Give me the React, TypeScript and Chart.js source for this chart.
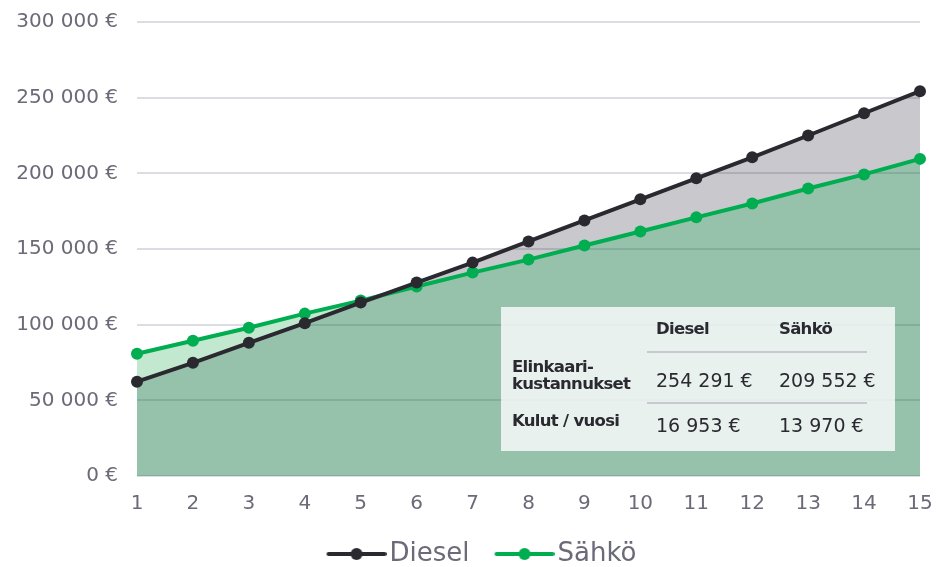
import React, { useEffect, useRef } from "react";
import { Chart, registerables } from "chart.js";

Chart.register(...registerables);

const years = ["1", "2", "3", "4", "5", "6", "7", "8", "9", "10", "11", "12", "13", "14", "15"];
const diesel = [62300, 74800, 88000, 101000, 114600, 127800, 141000, 155000, 168900, 182800, 196700, 210600, 225000, 239700, 254291];
const sahko = [80800, 89400, 98000, 107300, 115900, 125200, 134400, 143000, 152300, 161600, 170900, 180100, 190000, 199300, 209552];
const yTicks = [0, 50000, 100000, 150000, 200000, 250000, 300000];

const tableHeaders = ["Diesel", "Sähkö"];
const tableRowLabels = [["Elinkaari-", "kustannukset"], ["Kulut / vuosi"]];
const tableValues = [
  ["254 291 €", "209 552 €"],
  ["16 953 €", "13 970 €"],
];

const DIESEL_COLOR = "#2b2930";
const SAHKO_COLOR = "#00ad50";
const TEXT_COLOR = "#6b6a78";
const FONT = "'DejaVu Sans', Verdana, sans-serif";

function fmt(v: number) {
  const s = Math.round(v).toString().replace(/\B(?=(\d{3})+(?!\d))/g, " ");
  return s + " €";
}

// legend icon: line with a dot, placed at the right side of a wider transparent canvas
function legendIcon(color: string) {
  const c = document.createElement("canvas");
  c.width = 85;
  c.height = 14;
  const ctx = c.getContext("2d")!;
  ctx.strokeStyle = color;
  ctx.lineWidth = 4;
  ctx.lineCap = "round";
  ctx.beginPath();
  ctx.moveTo(27, 7);
  ctx.lineTo(83, 7);
  ctx.stroke();
  ctx.fillStyle = color;
  ctx.beginPath();
  ctx.arc(55, 7, 6, 0, Math.PI * 2);
  ctx.fill();
  return c;
}

const legendShift = {
  id: "legendShift",
  afterLayout(c: any) {
    const l = c.legend;
    if (!l) return;
    l.top += 15;
    l.bottom += 15;
    l.left += 14;
    l.right += 14;
  },
};

export default function App() {
  const ref = useRef<HTMLCanvasElement>(null);

  useEffect(() => {
    document.body.style.margin = "0";
    const icons = [legendIcon(DIESEL_COLOR), legendIcon(SAHKO_COLOR)];
    const chart = new Chart(ref.current!, {
      type: "line",
      data: {
        labels: years,
        datasets: [
          {
            label: "Diesel",
            data: diesel,
            borderColor: DIESEL_COLOR,
            backgroundColor: DIESEL_COLOR,
            borderWidth: 4,
            pointRadius: 6,
            pointBackgroundColor: DIESEL_COLOR,
            pointBorderWidth: 0,
            tension: 0,
            fill: { target: 1, above: "rgba(45,43,58,0.26)", below: "#c3e8d0" },
          },
          {
            label: "Sähkö",
            data: sahko,
            borderColor: SAHKO_COLOR,
            backgroundColor: SAHKO_COLOR,
            borderWidth: 4,
            pointRadius: 6,
            pointBackgroundColor: SAHKO_COLOR,
            pointBorderWidth: 0,
            tension: 0,
            fill: { target: "origin", above: "rgba(22,117,68,0.45)" },
          },
        ],
      },
      plugins: [legendShift],
      options: {
        responsive: false,
        animation: false,
        devicePixelRatio: 1,
        layout: { padding: { top: 22, right: 16, left: 0, bottom: 5 } },
        plugins: {
          filler: { drawTime: "beforeDatasetsDraw" } as any,
          tooltip: { enabled: false },
          legend: {
            position: "bottom",
            labels: {
              usePointStyle: true,
              pointStyleWidth: 65,
              color: TEXT_COLOR,
              font: { family: FONT, size: 26 },
              padding: 10,
              generateLabels: (ch: any) => {
                const items = Chart.defaults.plugins.legend.labels.generateLabels(ch);
                items.forEach((it: any, i: number) => {
                  it.pointStyle = icons[i];
                  it.fontColor = TEXT_COLOR;
                });
                return items;
              },
            },
          },
        },
        scales: {
          x: {
            offset: false,
            grid: { display: false, drawTicks: false },
            border: { display: false },
            ticks: { color: TEXT_COLOR, font: { family: FONT, size: 20 }, padding: 16, maxRotation: 0 },
            afterFit: (s: any) => {
              s.height = 40;
              s.paddingLeft = 0;
              s.paddingRight = 0;
            },
          },
          y: {
            min: 0,
            max: 300000,
            afterBuildTicks: (s: any) => {
              s.ticks = yTicks.map((v) => ({ value: v }));
            },
            grid: { color: "#dcdce3", lineWidth: 2, drawTicks: false },
            border: { display: false },
            ticks: {
              color: TEXT_COLOR,
              font: { family: FONT, size: 20 },
              padding: 19,
              callback: (v: any) => fmt(Number(v)),
            },
            afterFit: (s: any) => {
              s.width = 137;
              s.paddingTop = 0;
              s.paddingBottom = 0;
            },
          },
        },
      },
    });
    return () => chart.destroy();
  }, []);

  const boldStyle: React.CSSProperties = {
    position: "absolute",
    fontFamily: FONT,
    fontWeight: "bold",
    fontSize: 16.5,
    letterSpacing: "-0.7px",
    color: "#2b2930",
    lineHeight: "17px",
    whiteSpace: "nowrap",
  };
  const valStyle: React.CSSProperties = {
    position: "absolute",
    fontFamily: FONT,
    fontSize: 19,
    color: "#2b2930",
    whiteSpace: "nowrap",
    lineHeight: "22px",
  };

  return (
    <div style={{ position: "relative", width: 936, height: 567 }}>
      <canvas ref={ref} width={936} height={567} style={{ display: "block" }} />
      <div
        style={{
          position: "absolute",
          left: 501,
          top: 307,
          width: 394,
          height: 144,
          background: "rgba(255,255,255,0.78)",
        }}
      >
        <div style={{ ...boldStyle, left: 155, top: 13 }}>{tableHeaders[0]}</div>
        <div style={{ ...boldStyle, left: 278, top: 13 }}>{tableHeaders[1]}</div>
        <div style={{ position: "absolute", left: 146, top: 44, width: 220, height: 2, background: "#c9c8d0" }} />
        <div style={{ position: "absolute", left: 146, top: 95, width: 220, height: 2, background: "#c9c8d0" }} />
        <div style={{ ...boldStyle, left: 11, top: 51 }}>
          {tableRowLabels[0][0]}
          <br />
          {tableRowLabels[0][1]}
        </div>
        <div style={{ ...valStyle, left: 155, top: 62 }}>{tableValues[0][0]}</div>
        <div style={{ ...valStyle, left: 278, top: 62 }}>{tableValues[0][1]}</div>
        <div style={{ ...boldStyle, left: 11, top: 105 }}>{tableRowLabels[1][0]}</div>
        <div style={{ ...valStyle, left: 155, top: 107 }}>{tableValues[1][0]}</div>
        <div style={{ ...valStyle, left: 278, top: 107 }}>{tableValues[1][1]}</div>
      </div>
    </div>
  );
}
